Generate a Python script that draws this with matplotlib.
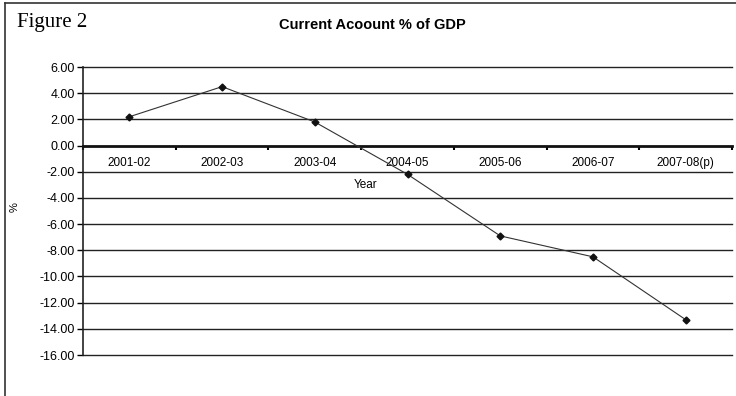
import matplotlib.pyplot as plt
from matplotlib.lines import Line2D

years = ['2001-02', '2002-03', '2003-04', '2004-05', '2005-06', '2006-07', '2007-08(p)']
current_account = [2.2, 4.5, 1.8, -2.2, -6.9, -8.5, -13.3]
y_ticks = [6, 4, 2, 0, -2, -4, -6, -8, -10, -12, -14, -16]

fig = plt.figure(figsize=(7.36, 3.96), dpi=100)
ax = fig.add_axes([0.1128, 0.1035, 0.8818, 0.7273])

x = list(range(len(years)))

# horizontal grid lines every 2 units, zero line drawn heavier
for yv in y_ticks:
    if yv == 0:
        continue
    ax.axhline(yv, color='#222222', lw=1.0, zorder=1, clip_on=False)

ax.plot(x, current_account, color='#333333', lw=0.8, marker='D', ms=3.5,
        mfc='#111111', mec='#111111', zorder=3)

ax.set_xlim(-0.5, len(years) - 0.5)
ax.set_ylim(-16, 6)

for side in ['top', 'right']:
    ax.spines[side].set_visible(False)
ax.spines['bottom'].set_position(('data', 0))
ax.spines['bottom'].set_linewidth(2.0)
ax.spines['bottom'].set_color('#111111')
ax.spines['left'].set_linewidth(1.2)
ax.spines['left'].set_color('#222222')

ax.set_yticks(y_ticks)
ax.set_yticklabels(['%.2f' % v for v in y_ticks], fontsize=9, family='Liberation Sans')
ax.tick_params(axis='y', direction='out', length=4, width=1, pad=2)

# ticks at category boundaries, labels at category centres
ax.set_xticks([i - 0.5 for i in range(len(years) + 1)])
ax.set_xticklabels([])
ax.tick_params(axis='x', which='major', direction='out', length=3, width=1.5)
ax.set_xticks(x, minor=True)
ax.set_xticklabels(years, minor=True, fontsize=8.5, family='Liberation Sans')
ax.tick_params(axis='x', which='minor', length=0, pad=8)

fig.text(366 / 736, 1 - 185 / 396, 'Year', ha='center', va='center',
         fontsize=8.5, family='Liberation Sans')
fig.text(15 / 736, 1 - 207 / 396, '%', ha='center', va='center', rotation=90,
         fontsize=8, family='Liberation Sans')

fig.text(372 / 736, 1 - 25 / 396, 'Current Acoount % of GDP', ha='center', va='center',
         fontsize=10.5, fontweight='bold', family='Liberation Sans')
fig.text(17 / 736, 1 - 22 / 396, 'Figure 2', ha='left', va='center',
         fontsize=15, family='Liberation Serif')

# outer frame (left and top edges visible)
fig.add_artist(Line2D([5 / 736, 5 / 736], [0, 1 - 3 / 396], color='#333333', lw=1.2))
fig.add_artist(Line2D([5 / 736, 1], [1 - 3 / 396, 1 - 3 / 396], color='#333333', lw=1.2))

plt.savefig('out.png', dpi=100)
